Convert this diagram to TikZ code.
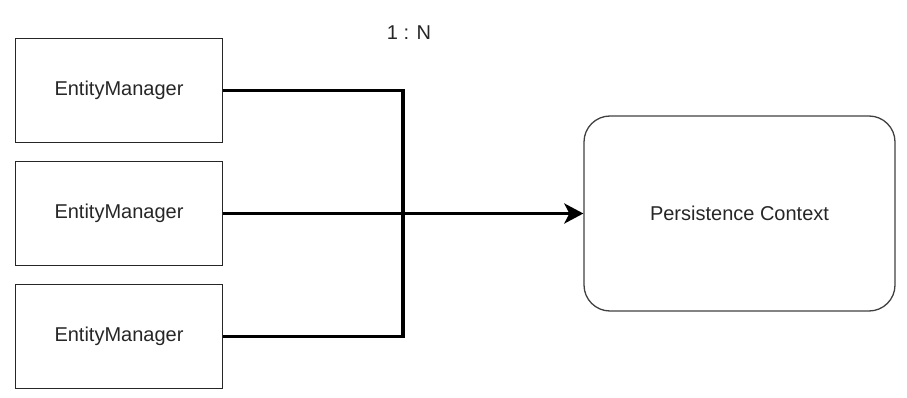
\documentclass[tikz,border=0pt]{standalone}
\usepackage{fontspec}
\setmainfont{Liberation Sans}
\usetikzlibrary{arrows.meta}
\begin{document}
\begin{tikzpicture}[x=1pt,y=-1pt,
  embox/.style={draw=black!85,line width=1.3pt,minimum width=207pt,minimum height=104pt,inner sep=0pt,font=\fontsize{20}{24}\selectfont,text=black!85},
  pcbox/.style={draw=black!75,line width=1.3pt,rounded corners=26pt,minimum width=311pt,minimum height=195pt,inner sep=0pt,font=\fontsize{20}{24}\selectfont,text=black!85},
  conn/.style={line width=3.2pt,black}]
\useasboundingbox (0,0) rectangle (907,398);
\node[embox] (e1) at (119,90.5) {EntityManager};
\node[embox] (e2) at (119,213.5) {EntityManager};
\node[embox] (e3) at (119,336.5) {EntityManager};
\node[pcbox] (pc) at (739.5,213.5) {Persistence Context};
\node[font=\fontsize{20}{24}\selectfont,text=black!85] (lbl) at (409,33) {1 : N};
\coordinate (j1) at (403,90.5);
\coordinate (j3) at (403,336.5);
\draw[conn] (e1.east) -- (j1) -- (j3) -- (e3.east);
\draw[conn,-{Stealth[length=19pt,width=20pt,inset=5pt]}] (e2.east) -- (pc.west);
\end{tikzpicture}
\end{document}
